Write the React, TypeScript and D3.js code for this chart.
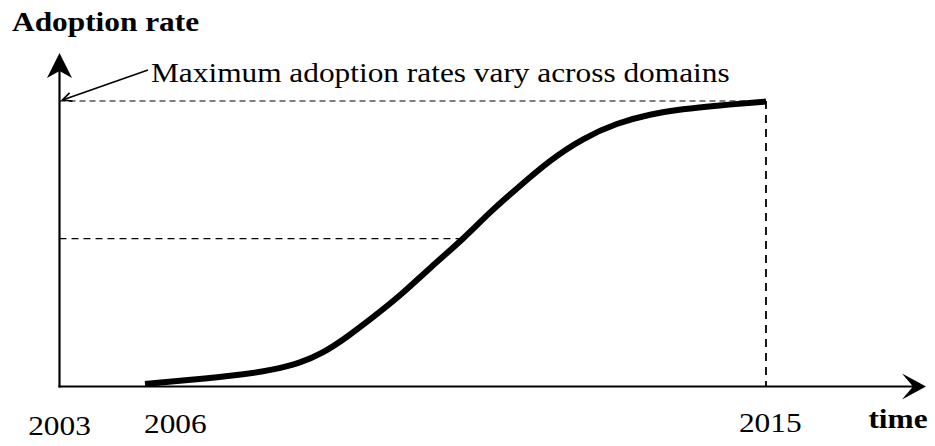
import React from "react";
import * as d3 from "d3";

// Normalized time (0 = origin, 1 = end point) and adoption level (0..1)
const curveX = [0.121, 0.185, 0.255, 0.302, 0.34, 0.373, 0.407, 0.444, 0.482, 0.524, 0.573, 0.609, 0.648, 0.694, 0.741, 0.789, 0.836, 0.882, 0.931, 1.0];
const curveY = [0.009, 0.023, 0.04, 0.058, 0.082, 0.117, 0.173, 0.243, 0.317, 0.415, 0.52, 0.611, 0.695, 0.793, 0.87, 0.923, 0.954, 0.972, 0.984, 0.998];
const tickLabels = ["2003", "2006", "2015"];
const tickValues = [0, 0.164, 1.006];
const maxLevel = 1;
const midLevel = 0.518;
const midTime = 0.573;
const yTitle = "Adoption rate";
const xTitle = "time";
const annotation = "Maximum adoption rates vary across domains";

const W = 935;
const H = 446;

export default function App() {
  const x = d3.scaleLinear().domain([0, 1]).range([59.5, 766]);
  const y = d3.scaleLinear().domain([0, 1]).range([386.5, 101]);
  const pts: [number, number][] = curveX.map((v, i) => [x(v), y(curveY[i])]);
  const line = d3.line().curve(d3.curveBasis)(pts) || "";

  const x0 = x(0);
  const y0 = y(0);
  const font = "'Liberation Serif', 'Times New Roman', serif";
  const sx = 1.14;
  const fs = 27.5;

  // Annotation leader
  const aStart: [number, number] = [x0 + 3, y(maxLevel) - 1];
  const aEnd: [number, number] = [148, 70];
  const ang = Math.atan2(aEnd[1] - aStart[1], aEnd[0] - aStart[0]);
  const ah = 10;
  const w1: [number, number] = [aStart[0] + ah * Math.cos(ang - 0.45), aStart[1] + ah * Math.sin(ang - 0.45)];
  const w2: [number, number] = [aStart[0] + ah * Math.cos(ang + 0.45), aStart[1] + ah * Math.sin(ang + 0.45)];

  return (
    <svg width={W} height={H} style={{ position: "absolute", left: 0, top: 0, background: "#fff" }}>
      <rect width={W} height={H} fill="#fff" />
      {/* dashed guides */}
      <line x1={x0} x2={x(1)} y1={y(maxLevel)} y2={y(maxLevel)} stroke="#000" strokeWidth={1.1} strokeDasharray="6,4" />
      <line x1={x0} x2={x(midTime)} y1={y(midLevel)} y2={y(midLevel)} stroke="#000" strokeWidth={1.4} strokeDasharray="7,5" />
      <line x1={x(1)} x2={x(1)} y1={y(maxLevel)} y2={y0} stroke="#000" strokeWidth={1.8} strokeDasharray="8,6" />
      {/* axes */}
      <line x1={x0} x2={x0} y1={y0 + 1} y2={62} stroke="#000" strokeWidth={2.2} />
      <path d={`M${x0},53 L${x0 + 12.5},78 L${x0},71 L${x0 - 12.5},78 Z`} fill="#000" />
      <line x1={x0 - 1} x2={916} y1={y0} y2={y0} stroke="#000" strokeWidth={2.2} />
      <path d={`M926,${y0} L902,${y0 - 13} L913,${y0} L902,${y0 + 13} Z`} fill="#000" />
      {/* curve */}
      <path d={line} fill="none" stroke="#000" strokeWidth={6} strokeLinecap="butt" />
      {/* annotation leader */}
      <line x1={aStart[0]} y1={aStart[1]} x2={aEnd[0]} y2={aEnd[1]} stroke="#000" strokeWidth={1.6} />
      <path d={`M${w1[0]},${w1[1]} L${aStart[0]},${aStart[1]} L${w2[0]},${w2[1]}`} fill="none" stroke="#000" strokeWidth={1.6} />
      {/* texts */}
      <g fontFamily={font} fill="#000">
        <text transform={`translate(12,30.5) scale(${sx},1)`} fontSize={fs} fontWeight="bold">{yTitle}</text>
        <text transform={`translate(151,82) scale(${sx},1)`} fontSize={fs}>{annotation}</text>
        {tickLabels.map((t, i) => (
          <text key={t} transform={`translate(${x(tickValues[i])},${[435, 433, 432][i]}) scale(${sx},1)`} fontSize={fs} textAnchor="middle">{t}</text>
        ))}
        <text transform={`translate(898,428) scale(${sx},1)`} fontSize={fs} fontWeight="bold" textAnchor="middle">{xTitle}</text>
      </g>
    </svg>
  );
}
